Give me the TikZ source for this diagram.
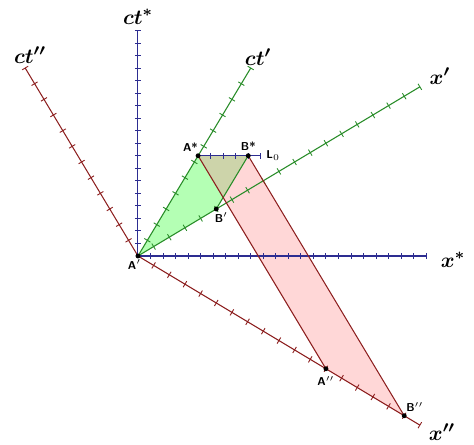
\documentclass[tikz,border=0pt]{standalone}
\usetikzlibrary{positioning}
\definecolor{axblue}{RGB}{45,45,145}
\definecolor{axgreen}{RGB}{40,140,40}
\definecolor{axred}{RGB}{140,30,30}
\definecolor{fillgreen}{RGB}{180,255,180}
\definecolor{fillred}{RGB}{255,215,215}
\definecolor{fillolive}{RGB}{205,212,170}

\begin{document}
\begin{tikzpicture}[x=0.2506cm, y=0.2506cm,
      ax/.style = {line width=0.6pt},
      tk/.style = {line width=0.5pt},
    ptlab/.style = {font=\sffamily\bfseries\fontsize{6.5}{7}\selectfont, inner sep=1pt},
    axlab/.style = {font=\fontsize{13}{15}\selectfont\boldmath, inner sep=1pt}
                    ]
\useasboundingbox (-11.01,-15.08) rectangle (26.82,20.43);
% axis ends
\coordinate (O)   at (0,0);
\coordinate (ts)  at (0,18);
\coordinate (xs)  at (23,0);
\coordinate (tp)  at (9,15);
\coordinate (xp)  at (22.5,13.5);
\coordinate (tpp) at (-9,15);
\coordinate (xpp) at (22.5,-13.5);
% events
\coordinate (As)  at (4.8,8);
\coordinate (Bs)  at (8.8,8);
\coordinate (L0)  at (9.8,8);
\coordinate (Bp)  at (6.25,3.75);
\coordinate (App) at (15,-9);
\coordinate (Bpp) at (21.25,-12.75);
\coordinate (X)   at (intersection of As--App and Bs--Bp);
% regions
\fill[fillred]   (As) -- (Bs) -- (Bpp) -- (App) -- cycle;
\fill[fillgreen] (O) -- (As) -- (Bs) -- (Bp) -- cycle;
\fill[fillolive] (As) -- (Bs) -- (X) -- cycle;
% rest frame
\draw[axblue,ax] (O) -- (ts);
\draw[axblue,ax] (O) -- (xs);
\draw[axblue,ax] (As) -- (L0);
\foreach \k in {1,...,18}
    \draw[axblue,tk] (-0.25,\k) -- (0.25,\k);
\foreach \k in {1,...,23}
    \draw[axblue,tk] (\k,-0.25) -- (\k,0.25);
\foreach \k in {5.8,6.8,7.8,8.8,9.8}
    \draw[axblue,tk] (\k,7.75) -- (\k,8.25);
% green frame
\draw[axgreen,ax] (O) -- (tp);
\draw[axgreen,ax] (O) -- (xp);
\draw[axgreen,ax] (Bs) -- (Bp);
\foreach \k in {1,...,12}
    \draw[axgreen,tk] (0.75*\k,1.25*\k) ++(-31:2pt) -- ++(149:4pt);
\foreach \k in {1,...,18}
    \draw[axgreen,tk] (1.25*\k,0.75*\k) ++(121:2pt) -- ++(-59:4pt);
% red frame
\draw[axred,ax] (O) -- (tpp);
\draw[axred,ax] (O) -- (xpp);
\draw[axred,ax] (As) -- (App);
\draw[axred,ax] (Bs) -- (Bpp);
\foreach \k in {1,...,12}
    \draw[axred,tk] (-0.75*\k,1.25*\k) ++(31:2pt) -- ++(211:4pt);
\foreach \k in {1,...,18}
    \draw[axred,tk] (1.25*\k,-0.75*\k) ++(59:2pt) -- ++(239:4pt);
% points
\foreach \p in {O,As,Bs,Bp,App,Bpp}
    \fill (\p) circle (1.4pt);
\node[ptlab, below left=1pt and -3pt of O]   (lO)   {A$'$};
\node[ptlab, above left=1pt and -1pt of As]  (lAs)  {A*};
\node[ptlab, above=1.5pt of Bs]              (lBs)  {B*};
\node[ptlab, right=2pt of L0]                (lL0)  {L$_0$};
\node[ptlab, below right=1pt and -2pt of Bp] (lBp)  {B$'$};
\node[ptlab, below=3pt of App]               (lApp) {A$''$};
\node[ptlab, above right=1pt and 0pt of Bpp] (lBpp) {B$''$};
% axis labels
\node[axlab] (lts)  at (0,19.07)      {$ct^*$};
\node[axlab] (ltp)  at (9.58,15.88)   {$ct'$};
\node[axlab] (ltpp) at (-8.62,16.04)  {$ct''$};
\node[axlab] (lxp)  at (24.1,14.37)   {$x'$};
\node[axlab] (lxs)  at (25.14,-0.32)  {$x^*$};
\node[axlab] (lxpp) at (24.26,-14.05) {$x''$};
\end{tikzpicture}
\end{document}
